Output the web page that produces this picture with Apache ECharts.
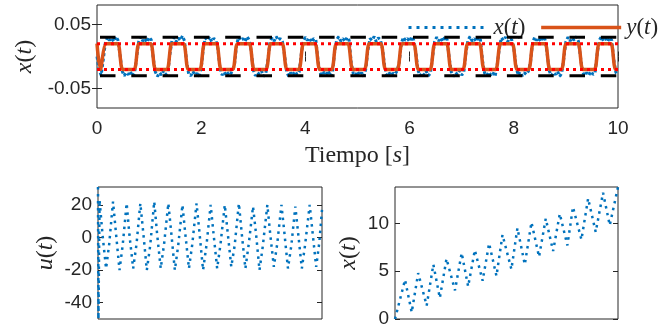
<!DOCTYPE html>
<html>
<head>
<meta charset="utf-8">
<script src="https://cdn.jsdelivr.net/npm/echarts@6/dist/echarts.min.js"></script>
<style>html,body{margin:0;padding:0;background:#fff;}#c{width:669px;height:330px;}</style>
</head>
<body>
<div id="c"></div>
<script>
// ---------- DATA ----------
// Top plot: time grid step and measured x(t) samples (every 0.04 s, 0..10 s)
const xTopStep = 0.04;
const xTopVals = [
0.0,-0.021,-0.029,-0.005,0.021,0.03,0.025,0.029,0.023,0.031,0.026,0.004,-0.022,-0.03,-0.025,-0.028,-0.023,-0.031,-0.026,-0.002,
0.023,0.031,0.024,0.028,0.022,0.03,0.026,-0.003,-0.024,-0.031,-0.025,-0.029,-0.022,-0.028,-0.025,0.004,0.025,0.03,0.023,0.029,
0.025,0.032,0.024,-0.008,-0.027,-0.03,-0.023,-0.029,-0.026,-0.031,-0.018,0.012,0.029,0.025,0.031,0.023,0.028,0.026,0.012,-0.018,
-0.029,-0.024,-0.03,-0.025,-0.028,-0.022,-0.012,0.019,0.03,0.025,0.028,0.023,0.031,0.026,0.008,-0.021,-0.03,-0.025,-0.028,-0.023,
-0.031,-0.026,-0.006,0.023,0.029,0.024,0.031,0.025,0.028,0.023,0.002,-0.024,-0.031,-0.025,-0.029,-0.023,-0.028,-0.024,0.003,0.024,
0.03,0.025,0.029,0.022,0.028,0.026,-0.005,-0.025,-0.03,-0.024,-0.028,-0.022,-0.031,-0.025,0.006,0.026,0.031,0.024,0.028,0.023,
0.03,0.025,-0.01,-0.027,-0.03,-0.023,-0.029,-0.025,-0.031,-0.019,0.01,0.028,0.025,0.031,0.023,0.029,0.026,0.012,-0.014,-0.029,
-0.024,-0.03,-0.026,-0.028,-0.022,-0.01,0.02,0.03,0.025,0.028,0.023,0.031,0.025,0.006,-0.021,-0.03,-0.025,-0.029,-0.023,-0.03,
-0.026,-0.001,0.023,0.03,0.024,0.029,0.023,0.031,0.026,-0.002,-0.024,-0.031,-0.025,-0.028,-0.022,-0.029,-0.025,0.005,0.025,0.031,
0.024,0.028,0.023,0.03,0.026,-0.007,-0.026,-0.03,-0.024,-0.029,-0.025,-0.031,-0.014,0.011,0.029,0.025,0.03,0.023,0.028,0.026,
0.013,-0.013,-0.029,-0.024,-0.03,-0.025,-0.028,-0.023,-0.009,0.021,0.03,0.025,0.029,0.023,0.031,0.026,0.005,-0.022,-0.03,-0.025,
-0.028,-0.023,-0.031,-0.026,-0.003,0.023,0.03,0.024,0.029,0.025,0.031,0.024,-0.001,-0.024,-0.03,-0.025,-0.029,-0.023,-0.028,-0.025,
0.004,0.025,0.031,0.024,0.028,0.023,0.03,0.025,-0.006,-0.025,-0.029
];
// Top plot: reference y(t) – square-like wave, switching instants and levels
const yStart = [0, 0.02];
const yLevelHigh = 0.02, yLevelLow = -0.02;
const yRiseTimes = [0.13,0.76,1.39,2.02,2.65,3.29,3.92,4.55,5.18,5.81,6.44,7.07,7.70,8.33,8.96,9.595];
const yFallTimes = [0.03,0.445,1.077,1.707,2.338,2.97,3.60,4.23,4.862,5.493,6.124,6.755,7.386,8.017,8.648,9.279,9.91];
// Bounds
const outerBounds = [0.03, -0.03];
const innerBounds = [0.02, -0.02];
// Top tick labels
const topYTicks = [-0.05, 0.05];

// Bottom-left: u(t) (time, value)
const uTimes = [0,0.02,0.07,0.2,0.36,0.5,0.67,0.8,0.96,1.1,1.28,1.4,1.57,1.72,1.89,2.02,2.18,2.33,2.51,2.64,2.8,2.95,
3.14,3.27,3.43,3.58,3.77,3.9,4.06,4.21,4.4,4.53,4.69,4.84,5.03,5.16,5.32,5.47,5.66,5.79,5.95,6.1,6.29,6.42,6.58,6.73,
6.92,7.05,7.21,7.36,7.56,7.69,7.85,8.0,8.19,8.32,8.48,8.63,8.81,8.94,9.1,9.25,9.45,9.58,9.74,9.88,10];
const uValues = [31,-50,23,2,-19,-4,22,3,-20,-5,21,2,-19,-4,21,3,-20,-5,22,2,-19,-4,
21,3,-20,-5,20,2,-19,-4,21,3,-20,-5,20,2,-19,-4,20,3,-18,-5,21,2,-19,-4,
19,3,-20,-5,20,2,-18,-4,20,3,-19,-5,19,2,-19,-4,20,3,-18,-3,17];
const uTicks = [-40,-20,0,20];

// Bottom-right: x(t) (time, value)
const x2Times = [0,0.45,0.75,1.04,1.42,1.72,2.01,2.31,2.69,2.99,3.28,3.58,3.93,4.22,4.55,4.82,5.22,5.49,5.82,6.12,
6.46,6.76,7.09,7.39,7.73,7.98,8.36,8.66,9.0,9.33,9.63,10];
const x2Values = [0,4.1,0.7,4.8,1.4,5.7,2.2,6.3,3.0,6.9,3.4,7.2,4.0,7.9,4.5,8.8,5.2,9.5,5.7,10.1,
6.5,10.5,7.1,11.0,7.7,11.7,8.3,12.6,9.1,13.2,9.8,13.8];
const x2Ticks = [0,5,10];

// ---------- BUILD ----------
const xTopData = xTopVals.map((v,i)=>[+(i*xTopStep).toFixed(3), v]);
const edges = [];
yRiseTimes.forEach(t=>edges.push([t, yLevelLow, yLevelHigh]));
yFallTimes.forEach(t=>edges.push([t, yLevelHigh, yLevelLow]));
edges.sort((a,b)=>a[0]-b[0]);
const yData = [yStart];
const halfT = 0.045;
edges.forEach(e=>{
  yData.push([Math.max(0.005,e[0]-halfT), e[1]]);
  yData.push([e[0]+halfT, e[2]]);
});
yData.push([10, yLevelLow]);
const uData = uTimes.map((t,i)=>[t,uValues[i]]);
const x2Data = x2Times.map((t,i)=>[t,x2Values[i]]);

const C_BLUE='#0072BD', C_ORANGE='#D95319', AX='#262626';
const tickFont = {fontFamily:'Liberation Sans, Arial, sans-serif', fontSize:19, color:AX};
const serif = 'Liberation Serif, Times New Roman, serif';
const richI = {i:{fontFamily:serif, fontStyle:'italic', fontSize:24, color:AX}, n:{fontFamily:serif, fontSize:24, color:AX}};
const richL = {i:{fontFamily:serif, fontStyle:'italic', fontSize:23, color:AX}, n:{fontFamily:serif, fontSize:23, color:AX}};

function xAx(grid, pos, opts){
  return Object.assign({type:'value', gridIndex:grid, position:pos, min:0, max:10,
    axisLine:{show:false}, splitLine:{show:false},
    axisTick:{show:false}, axisLabel:{show:false}}, opts||{});
}
function yAx(grid, pos, min, max, ticks, opts){
  return Object.assign({type:'value', gridIndex:grid, position:pos, min:min, max:max,
    axisLine:{show:false}, splitLine:{show:false},
    axisTick:{show:true, inside:true, length:5, lineStyle:{color:AX, width:1}, customValues:ticks},
    axisLabel:{show:pos==='left', customValues:ticks, margin:6, ...tickFont}}, opts||{});
}

const option = {
  animation:false,
  backgroundColor:'#fff',
  grid:[
    {left:97, top:5, width:521, height:103, show:true, borderColor:AX, borderWidth:1, backgroundColor:'transparent'},
    {left:98, top:187, width:224, height:132, show:true, borderColor:AX, borderWidth:1, backgroundColor:'transparent'},
    {left:395, top:187, width:223, height:132, show:true, borderColor:AX, borderWidth:1, backgroundColor:'transparent'}
  ],
  legend:{
    data:[
      {name:'x(t)', itemStyle:{opacity:0}, lineStyle:{color:C_BLUE, width:3, type:[3,5]}},
      {name:'y(t)', itemStyle:{opacity:0}, lineStyle:{color:C_ORANGE, width:3.5, type:'solid'}}
    ],
    left:402, top:11, itemWidth:80, itemHeight:24, itemGap:14,
    textStyle:{fontFamily:serif, fontSize:23, color:AX, rich:richL},
    formatter:function(n){ return n==='x(t)' ? '{i|x}{n|(}{i|t}{n|)}' : '{i|y}{n|(}{i|t}{n|)}'; }
  },
  xAxis:[
    xAx(0,'bottom',{interval:2,
      axisTick:{show:true, inside:true, length:5, lineStyle:{color:AX}},
      axisLabel:{show:true, margin:11, ...tickFont},
      name:'{n|Tiempo [}{i|s}{n|]}', nameLocation:'middle', nameGap:36,
      nameTextStyle:{rich:richI}}),
    xAx(0,'top',{interval:2, axisTick:{show:true, inside:true, length:5, lineStyle:{color:AX}}}),
    xAx(1,'bottom'),
    xAx(2,'bottom')
  ],
  yAxis:[
    yAx(0,'left',-0.08,0.08,topYTicks,{name:'{i|x}{n|(}{i|t}{n|)}', nameLocation:'middle', nameGap:58, nameTextStyle:{rich:richI}}),
    yAx(0,'right',-0.08,0.08,topYTicks),
    yAx(1,'left',-50,31,uTicks,{name:'{i|u}{n|(}{i|t}{n|)}', nameLocation:'middle', nameGap:40, nameTextStyle:{rich:richI}}),
    yAx(1,'right',-50,31,uTicks),
    yAx(2,'left',0,13.8,x2Ticks,{name:'{i|x}{n|(}{i|t}{n|)}', nameLocation:'middle', nameGap:34, nameTextStyle:{rich:richI}}),
    yAx(2,'right',0,13.8,x2Ticks)
  ],
  series:[
    {name:'x(t)', type:'line', xAxisIndex:0, yAxisIndex:0, data:xTopData, showSymbol:false, symbol:'none',
      lineStyle:{color:C_BLUE, width:3, type:[3,2.5]}, itemStyle:{color:C_BLUE}, z:2},
    {name:'y(t)', type:'line', xAxisIndex:0, yAxisIndex:0, data:yData, showSymbol:false, symbol:'none', smooth:0.5, smoothMonotone:'x',
      lineStyle:{color:C_ORANGE, width:3.5}, itemStyle:{color:C_ORANGE}, z:3},
    {name:'ub', type:'line', xAxisIndex:0, yAxisIndex:0, data:[[0,outerBounds[0]],[10,outerBounds[0]]], symbol:'none',
      lineStyle:{color:'#000', width:3, type:[15.5,15.8], dashOffset:28.3}, z:4},
    {name:'lb', type:'line', xAxisIndex:0, yAxisIndex:0, data:[[0,outerBounds[1]],[10,outerBounds[1]]], symbol:'none',
      lineStyle:{color:'#000', width:3, type:[15.5,15.8], dashOffset:28.3}, z:4},
    {name:'ui', type:'line', xAxisIndex:0, yAxisIndex:0, data:[[0,innerBounds[0]],[10,innerBounds[0]]], symbol:'none',
      lineStyle:{color:'#FF0000', width:3, type:[3,4]}, z:5},
    {name:'li', type:'line', xAxisIndex:0, yAxisIndex:0, data:[[0,innerBounds[1]],[10,innerBounds[1]]], symbol:'none',
      lineStyle:{color:'#FF0000', width:3, type:[3,4]}, z:5},
    {name:'u', type:'line', xAxisIndex:2, yAxisIndex:2, data:uData, symbol:'none',
      lineStyle:{color:C_BLUE, width:2.5, type:[2.5,4.5]}, z:2},
    {name:'x2', type:'line', xAxisIndex:3, yAxisIndex:4, data:x2Data, symbol:'none',
      lineStyle:{color:C_BLUE, width:2.5, type:[2.5,4.5]}, z:2}
  ]
};
const chart = echarts.init(document.getElementById('c'), null, {renderer:'canvas'});
chart.setOption(option);
</script>
</body>
</html>
